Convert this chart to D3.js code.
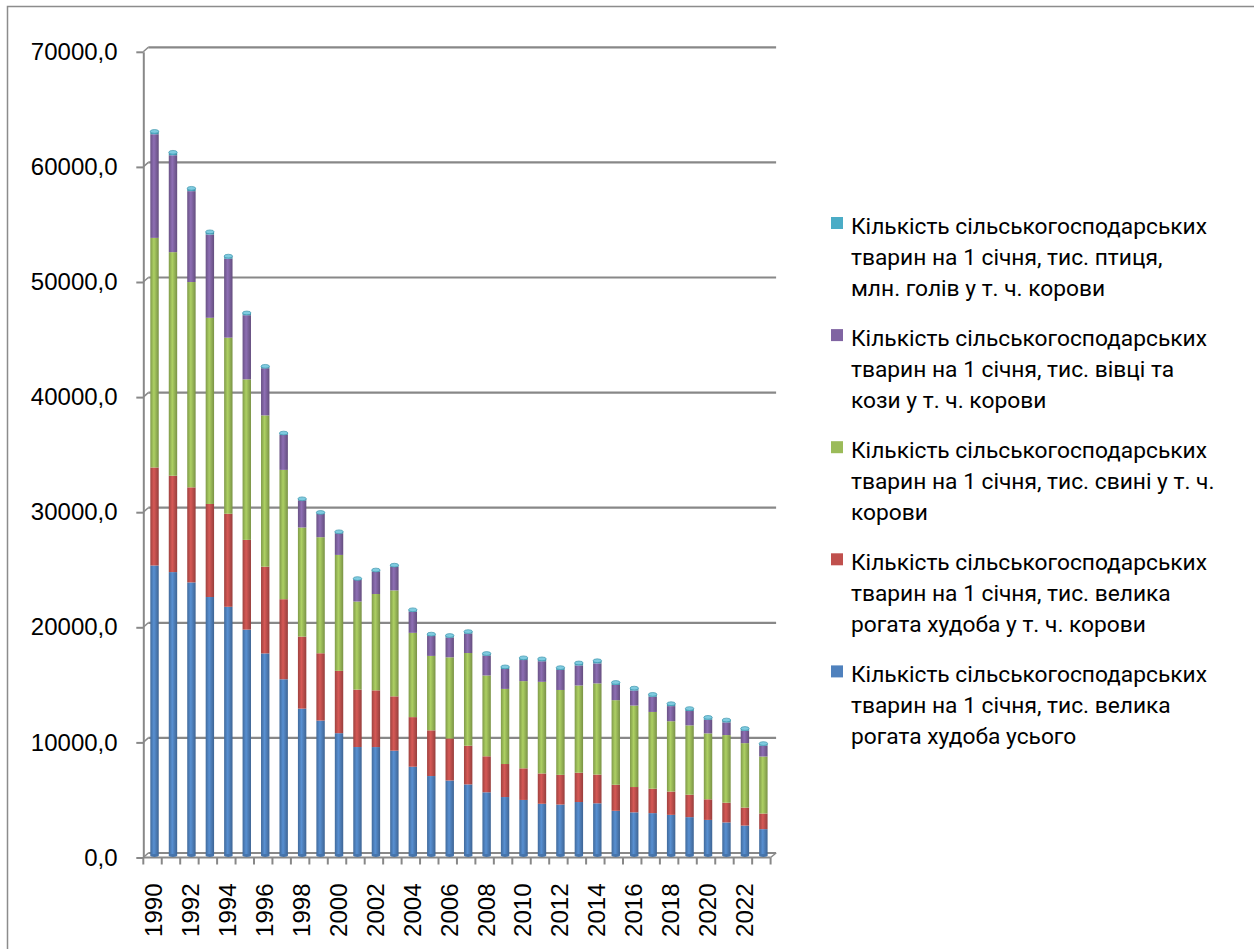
<!DOCTYPE html>
<html>
<head>
<meta charset="utf-8">
<script src="https://cdn.jsdelivr.net/npm/d3@7"></script>
<style>
  body { margin: 0; background: #fff; }
  svg { display: block; }
</style>
</head>
<body>
<svg id="chart" width="1254" height="949"></svg>
<script>
// Livestock numbers on 1 January, thousand head (poultry in million head)
const years = [1990, 1991, 1992, 1993, 1994, 1995, 1996, 1997, 1998, 1999,
               2000, 2001, 2002, 2003, 2004, 2005, 2006, 2007, 2008, 2009,
               2010, 2011, 2012, 2013, 2014, 2015, 2016, 2017, 2018, 2019,
               2020, 2021, 2022, 2023];
const cattleAll = [25195, 24623, 23728, 22457, 21607, 19624, 17557, 15313, 12759, 11722,
                   10627, 9424, 9421, 9108, 7712, 6903, 6514, 6175, 5491, 5079,
                   4827, 4494, 4426, 4646, 4534, 3884, 3750, 3682, 3531, 3333,
                   3092, 2874, 2600, 2290];
const cows = [8518, 8370, 8257, 8084, 8084, 7797, 7536, 6954, 6259, 5849,
              5415, 4989, 4928, 4720, 4311, 3972, 3651, 3363, 3129, 2869,
              2746, 2634, 2582, 2547, 2495, 2260, 2199, 2121, 2025, 1947,
              1791, 1712, 1564, 1356];
const pigs = [19947, 19427, 17839, 16175, 15298, 13946, 13144, 11236, 9479, 10083,
              10073, 7652, 8370, 9204, 7322, 6466, 7053, 8055, 7020, 6526,
              7577, 7960, 7373, 7577, 7922, 7351, 7079, 6669, 6110, 6025,
              5727, 5876, 5598, 4954];
const sheepGoats = [9004, 8419, 7896, 7237, 6863, 5575, 4099, 3047, 2362, 2026,
                    1883, 1875, 1957, 2055, 1851, 1727, 1726, 1693, 1730, 1728,
                    1833, 1790, 1737, 1744, 1739, 1325, 1309, 1325, 1314, 1248,
                    1183, 1105, 1080, 950];
const poultry = [246, 255, 243, 230, 220, 195, 164, 150, 130, 123,
                 126, 120, 124, 135, 152, 165, 168, 167, 178, 185,
                 191, 204, 203, 215, 230, 214, 204, 201, 210, 213,
                 207, 203, 190, 175];
const yTicks = [0, 10000, 20000, 30000, 40000, 50000, 60000, 70000];
const yearLabels = [1990, 1992, 1994, 1996, 1998, 2000, 2002, 2004, 2006, 2008,
                    2010, 2012, 2014, 2016, 2018, 2020, 2022];

const seriesKeys = ["cattleAll", "cows", "pigs", "sheepGoats", "poultry"];
const seriesColors = ["#4F81BD", "#C0504D", "#9BBB59", "#8064A2", "#4BACC6"];
const seriesLabels = [
  ["Кількість сільськогосподарських", "тварин на 1 січня, тис. велика", "рогата худоба усього"],
  ["Кількість сільськогосподарських", "тварин на 1 січня, тис. велика", "рогата худоба у т. ч. корови"],
  ["Кількість сільськогосподарських", "тварин на 1 січня, тис. свині у т. ч.", "корови"],
  ["Кількість сільськогосподарських", "тварин на 1 січня, тис. вівці та", "кози у т. ч. корови"],
  ["Кількість сільськогосподарських", "тварин на 1 січня, тис. птиця,", "млн. голів у т. ч. корови"]
];

const rows = years.map((yr, i) => ({
  year: yr,
  cattleAll: cattleAll[i], cows: cows[i], pigs: pigs[i],
  sheepGoats: sheepGoats[i], poultry: poultry[i]
}));
const stacked = d3.stack().keys(seriesKeys)(rows);

const svg = d3.select("#chart");
const gridColor = "#888888";
const axisFont = "'Liberation Sans', Arial, sans-serif";

// outer frame of the chart area
svg.append("rect")
  .attr("x", 7.5).attr("y", 6.5).attr("width", 1270).attr("height", 970)
  .attr("fill", "none").attr("stroke", "#8c8c8c").attr("stroke-width", 1.5);

// pseudo-3D: front plane (axes), back wall (gridlines), bars in between
const wallDx = 5, wallDy = 4.5;
const yFront = d3.scaleLinear().domain([0, 70000]).range([857.5, 51.8]);
const yBack = v => yFront(v) - wallDy;
const yBar = v => yFront(v) - 2;

const x = d3.scaleBand().domain(years).range([143.3, 770.6]).padding(0);
const xLeft = x.range()[0], xRight = x.range()[1];
const barW = 8.4;
const barCx = yr => x(yr) + x.bandwidth() / 2 + 2;

// cylinder shading gradients
const defs = svg.append("defs");
seriesColors.forEach((c, i) => {
  const g = defs.append("linearGradient").attr("id", "cyl" + i)
    .attr("x1", 0).attr("x2", 1).attr("y1", 0).attr("y2", 0);
  g.append("stop").attr("offset", 0).attr("stop-color", d3.color(c).darker(0.55));
  g.append("stop").attr("offset", 0.42).attr("stop-color", d3.color(c).brighter(0.3));
  g.append("stop").attr("offset", 1).attr("stop-color", d3.color(c).darker(0.7));
});

// back-wall gridlines with the short depth connector to the front axis
const grid = svg.append("g");
yTicks.forEach(v => {
  grid.append("line")
    .attr("x1", xLeft + wallDx).attr("x2", xRight + wallDx + 0.5)
    .attr("y1", yBack(v)).attr("y2", yBack(v))
    .attr("stroke", gridColor).attr("stroke-width", 2.2);
  grid.append("line")
    .attr("x1", xLeft).attr("y1", yFront(v))
    .attr("x2", xLeft + wallDx).attr("y2", yBack(v))
    .attr("stroke", gridColor).attr("stroke-width", 1.5);
});
// floor front edge and right depth edge
grid.append("line")
  .attr("x1", xLeft).attr("x2", xRight)
  .attr("y1", yFront(0)).attr("y2", yFront(0))
  .attr("stroke", gridColor).attr("stroke-width", 2);
grid.append("line")
  .attr("x1", xRight).attr("y1", yFront(0))
  .attr("x2", xRight + wallDx + 0.5).attr("y2", yBack(0))
  .attr("stroke", gridColor).attr("stroke-width", 1.5);

// stacked cylinders
const bars = svg.append("g");
stacked.forEach((layer, si) => {
  bars.append("g").selectAll("rect").data(layer).join("rect")
    .attr("x", d => barCx(d.data.year) - barW / 2)
    .attr("width", barW)
    .attr("y", d => yBar(d[1]))
    .attr("height", d => Math.max(0, yBar(d[0]) - yBar(d[1])))
    .attr("fill", `url(#cyl${si})`);
});
// rounded top of each cylinder
const topLayer = stacked[stacked.length - 1];
bars.append("g").selectAll("ellipse").data(topLayer).join("ellipse")
  .attr("cx", d => barCx(d.data.year))
  .attr("cy", d => yBar(d[1]))
  .attr("rx", barW / 2).attr("ry", 1.9)
  .attr("fill", "#7FCBE0").attr("stroke", "#3f97ae").attr("stroke-width", 0.7);
// rounded bottom of each cylinder
bars.append("g").selectAll("ellipse").data(stacked[0]).join("ellipse")
  .attr("cx", d => barCx(d.data.year))
  .attr("cy", d => yBar(0))
  .attr("rx", barW / 2).attr("ry", 1.4)
  .attr("fill", "#4674ab");

// value axis on the front plane
const yAxis = d3.axisLeft(yFront)
  .tickValues(yTicks)
  .tickSize(7)
  .tickSizeOuter(0)
  .tickPadding(18.7)
  .tickFormat(d => d3.format(".1f")(d).replace(".", ","));
const yAxisG = svg.append("g").attr("transform", `translate(${xLeft},0)`).call(yAxis);
yAxisG.select(".domain").attr("stroke", gridColor).attr("stroke-width", 2);
yAxisG.selectAll(".tick line").attr("stroke", gridColor).attr("stroke-width", 2);
yAxisG.selectAll(".tick text")
  .attr("fill", "#000").attr("font-family", axisFont).attr("font-size", 24);

// category axis: tick marks between categories
const tickXs = years.map(yr => x(yr)).concat([xRight]);
svg.append("g").selectAll("line").data(tickXs).join("line")
  .attr("x1", d => d).attr("x2", d => d)
  .attr("y1", yFront(0)).attr("y2", yFront(0) + 7)
  .attr("stroke", gridColor).attr("stroke-width", 2);

const xAxis = d3.axisBottom(x).tickValues(yearLabels).tickSize(0).tickPadding(0);
const xAxisG = svg.append("g").attr("transform", `translate(0,${yFront(0)})`).call(xAxis);
xAxisG.select(".domain").remove();
xAxisG.selectAll(".tick").attr("transform", d => `translate(${barCx(d) - 0.5},0)`);
xAxisG.selectAll(".tick text")
  .attr("fill", "#000").attr("font-family", axisFont).attr("font-size", 24)
  .attr("text-anchor", "end")
  .attr("x", 0).attr("y", 0).attr("dy", "0.35em")
  .attr("transform", "translate(0,26) rotate(-90)");

// legend, last series first
const legend = svg.append("g");
const legendFont = "Roboto, 'Noto Sans', sans-serif";
const order = [4, 3, 2, 1, 0];
order.forEach((si, k) => {
  const base = 233.5 + k * 112.1;
  legend.append("rect")
    .attr("x", 831).attr("y", base - 16.5).attr("width", 12).attr("height", 12)
    .attr("fill", seriesColors[si]);
  seriesLabels[si].forEach((line, li) => {
    legend.append("text")
      .attr("class", "lg")
      .attr("x", 851).attr("y", base + li * 31)
      .attr("font-family", legendFont).attr("font-size", 22)
      .attr("fill", "#000")
      .text(line);
  });
});
// size legend text so the first line spans its box width
const probe = legend.select("text.lg").node();
const w = probe.getComputedTextLength();
const fs = 22 * 356 / w;
legend.selectAll("text.lg").attr("font-size", fs);
</script>
</body>
</html>
